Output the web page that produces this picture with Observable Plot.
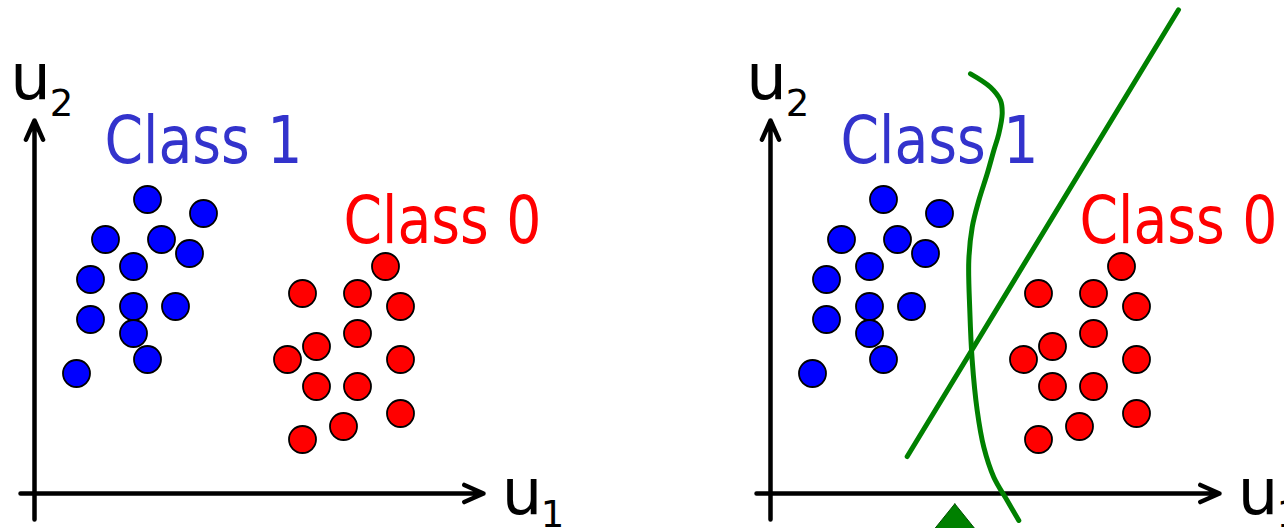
<!DOCTYPE html>
<html><head><meta charset="utf-8">
<script src="https://cdn.jsdelivr.net/npm/d3@7"></script>
<script src="https://cdn.jsdelivr.net/npm/@observablehq/plot@0.6"></script>
<style>
html,body{margin:0;padding:0;background:#fff;}
#wrap{position:relative;width:1284px;height:528px;overflow:hidden;background:#fff;}
#wrap svg{position:absolute;top:0;overflow:hidden;}
</style></head><body><div id="wrap"></div>
<script>
// Class 1 (blue) points, feature space (u1, u2)
const blueU1 = [11.3, 16.9, 7.1, 12.7, 15.5, 9.9, 5.6, 9.9, 14.1, 5.6, 9.9, 11.3, 4.2];
const blueU2 = [29.4, 28.0, 25.4, 25.4, 24.0, 22.7, 21.4, 18.7, 18.7, 17.4, 16.0, 13.4, 12.0];
// Class 0 (red) points
const redU1 = [35.1, 26.8, 32.3, 36.6, 32.3, 28.2, 25.3, 36.6, 28.2, 32.3, 36.6, 30.9, 26.8];
const redU2 = [22.7, 20.0, 20.0, 18.7, 16.0, 14.7, 13.4, 13.4, 10.7, 10.7, 8.0, 6.7, 5.4];
// class labels
const classLabels = ["Class 1", "Class 0"];
const classU1 = [16.9, 40.8];
const classU2 = [33.1, 25.1];
const classColors = ["#3333cc", "#ff0000"];
// axes (arrows)
const axisX1 = [-1.4, 0];
const axisY1 = [0, -2.6];
const axisX2 = [44.9, 0];
const axisY2 = [0, 37.3];
// axis names
const axisNames = ["u", "u"];
const axisNameU1 = [-0.4, 48.75];
const axisNameU2 = [39.5, -2.0];
const axisSubs = ["2", "1"];
const axisSubU1 = [2.7, 51.8];
const axisSubU2 = [37.8, -3.35];
// decision boundaries (right panel)
const straightU1 = [13.67, 40.8];
const straightU2 = [3.7, 48.37];
const curveU1 = [20.0, 22.0, 23.0, 23.17, 22.83, 22.33, 21.67, 20.83, 20.17, 19.83, 19.93, 20.17, 20.67, 21.33, 22.33, 23.67, 24.83];
const curveU2 = [41.97, 40.63, 39.3, 37.97, 35.97, 34.3, 31.97, 29.3, 26.63, 23.3, 18.3, 13.3, 8.3, 4.63, 1.63, -0.7, -2.7];
// marker triangle
const triU1 = [18.43, 21.39, 15.47, 18.43];
const triU2 = [-1.03, -4.7, -4.7, -1.03];

const blue = blueU1.map((u, i) => ({u1: u, u2: blueU2[i]}));
const red = redU1.map((u, i) => ({u1: u, u2: redU2[i]}));
const labels = classLabels.map((t, i) => ({t, u1: classU1[i], u2: classU2[i], c: classColors[i]}));
const axes = axisX1.map((x, i) => ({x1: x, y1: axisY1[i], x2: axisX2[i], y2: axisY2[i]}));
const names = axisNames.map((t, i) => ({t, u1: axisNameU1[i], u2: axisNameU2[i]}));
const subs = axisSubs.map((t, i) => ({t, u1: axisSubU1[i], u2: axisSubU2[i]}));
const straight = straightU1.map((u, i) => ({u1: u, u2: straightU2[i]}));
const curve = curveU1.map((u, i) => ({u1: u, u2: curveU2[i]}));
const tri = triU1.map((u, i) => ({u1: u, u2: triU2[i]}));

const FONT = "DejaVu Sans";

function panel(width, boundaries) {
  const marks = [
    Plot.arrow(axes, {x1: "x1", y1: "y1", x2: "x2", y2: "y2", stroke: "black", strokeWidth: 4.5,
      headLength: 7, headAngle: 48, insetEnd: 0, strokeLinejoin: "miter"}),
    Plot.text(names, {x: "u1", y: "u2", text: "t", fontSize: 64, lineAnchor: "bottom", textAnchor: "middle", fill: "black"}),
    Plot.text(subs, {x: "u1", y: "u2", text: "t", fontSize: 37, lineAnchor: "bottom", textAnchor: "middle", fill: "black"}),
    Plot.text(labels, {x: "u1", y: "u2", text: "t", fill: "c", fontSize: 66, lineAnchor: "bottom", textAnchor: "middle",
      fontFamily: "'DejaVu Sans Condensed', 'DejaVu Sans', sans-serif"}),
    Plot.dot(blue, {x: "u1", y: "u2", r: 13.5, fill: "#0000ff", stroke: "black", strokeWidth: 1.8}),
    Plot.dot(red, {x: "u1", y: "u2", r: 13.5, fill: "#ff0000", stroke: "black", strokeWidth: 1.8})
  ];
  if (boundaries) {
    marks.push(
      Plot.line(straight, {x: "u1", y: "u2", stroke: "#008000", strokeWidth: 5}),
      Plot.line(curve, {x: "u1", y: "u2", stroke: "#008000", strokeWidth: 5, curve: "catmull-rom"}),
      Plot.line(tri, {x: "u1", y: "u2", fill: "#008000", stroke: "#005000", strokeWidth: 1})
    );
  }
  const svg = Plot.plot({
    width, height: 528,
    marginTop: 0, marginRight: 0, marginBottom: 0, marginLeft: 0,
    style: {fontFamily: FONT, background: "white", overflow: "hidden"},
    x: {domain: [-3.4, -3.4 + width / 10], range: [0, width], axis: null},
    y: {domain: [-3.5, 49.3], range: [528, 0], axis: null},
    color: {type: "identity"},
    marks
  });
  d3.select(svg).selectAll("text").each(function () {
    const t = this.textContent;
    if (t.startsWith("Class")) {
      this.setAttribute("textLength", 198);
      this.setAttribute("lengthAdjust", "spacingAndGlyphs");
    }
  });
  return svg;
}

const wrap = document.getElementById("wrap");
const left = panel(736, false);
left.style.left = "0px";
wrap.appendChild(left);
const right = panel(548, true);
right.style.left = "736px";
wrap.appendChild(right);
</script>
</body></html>
